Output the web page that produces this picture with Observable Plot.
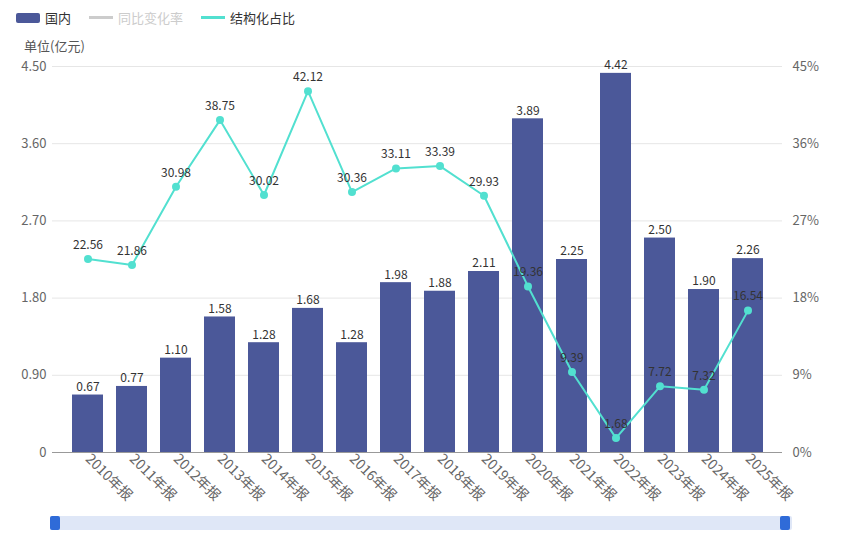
<!DOCTYPE html><html><head><meta charset="utf-8">
<script src="https://cdn.jsdelivr.net/npm/d3@7"></script>
<script src="https://cdn.jsdelivr.net/npm/@observablehq/plot@0.6"></script>
<style>body{margin:0;font-family:"Noto Sans CJK SC","Noto Sans",sans-serif;background:#fff;position:relative;width:849px;height:542px;overflow:hidden}
.lg{position:absolute;top:8px;left:16px;font-size:13px;color:#333;display:flex;gap:18px;align-items:center}
.lg span{display:flex;align-items:center;gap:5px}
.unit{position:absolute;top:36px;left:24px;font-size:13px;color:#555}
#c{position:absolute;top:0;left:0}
.sb{position:absolute;left:50px;top:516px;width:742px;height:14px;background:#dfe7f7;border-radius:2px}
.h{position:absolute;top:516px;width:10px;height:14px;background:#2f6bd8;border-radius:2px}
</style></head><body>
<div id="c"></div>
<div class="lg"><span><i style="display:inline-block;width:24px;height:10px;background:#4b5899;border-radius:2px"></i>国内</span>
<span style="color:#ccc"><i style="display:inline-block;width:24px;height:3px;background:#ccc"></i>同比变化率</span>
<span><i style="display:inline-block;width:24px;height:3px;background:#52e0d0"></i>结构化占比</span></div>
<div class="unit">单位(亿元)</div>
<div class="sb"></div><div class="h" style="left:50px"></div><div class="h" style="left:780px"></div>
<script>
const years=["2010年报","2011年报","2012年报","2013年报","2014年报","2015年报","2016年报","2017年报","2018年报","2019年报","2020年报","2021年报","2022年报","2023年报","2024年报","2025年报"];
const domestic=[0.67,0.77,1.10,1.58,1.28,1.68,1.28,1.98,1.88,2.11,3.89,2.25,4.42,2.50,1.90,2.26];
const share=[22.56,21.86,30.98,38.75,30.02,42.12,30.36,33.11,33.39,29.93,19.36,9.39,1.68,7.72,7.32,16.54];
const leftTicks=[0,0.9,1.8,2.7,3.6,4.5];
const rightTicks=[0,9,18,27,36,45];
const data=years.map((y,i)=>({y,v:domestic[i],s:share[i],s2:share[i]/10}));
const chart=Plot.plot({width:849,height:542,marginTop:66,marginBottom:90,marginLeft:52,marginRight:67,
style:{fontFamily:"Noto Sans CJK SC,Noto Sans,sans-serif",fontSize:"13px",color:"#666"},
x:{domain:years,padding:0.3,label:null},
y:{domain:[0,4.5],label:null},
marks:[
Plot.gridY(leftTicks,{stroke:"#e6e6e6",strokeOpacity:1}),
Plot.ruleY([0],{stroke:"#999"}),
Plot.axisY(leftTicks,{tickFormat:d=>d===0?"0":d.toFixed(2),tickSize:0,tickPadding:6,fill:"#666"}),
Plot.axisY(rightTicks.map(d=>d/10),{anchor:"right",tickFormat:d=>Math.round(d*10)+"%",tickSize:0,tickPadding:10,fill:"#666"}),
Plot.axisX({tickSize:0,tickRotate:45,textAnchor:"start",tickPadding:4,fill:"#666",fontSize:14}),
Plot.barY(data,{x:"y",y:"v",fill:"#4b5899"}),
Plot.text(data,{x:"y",y:"v",text:d=>d.v.toFixed(2),dy:-8,fill:"#333",fontSize:12}),
Plot.line(data,{x:"y",y:"s2",stroke:"#52e0d0",strokeWidth:2}),
Plot.dot(data,{x:"y",y:"s2",r:4,fill:"#52e0d0"}),
Plot.text(data,{x:"y",y:"s2",text:d=>d.s.toFixed(2),dy:-14,fill:"#333",fontSize:12})
]});
document.getElementById("c").appendChild(chart);
</script></body></html>
